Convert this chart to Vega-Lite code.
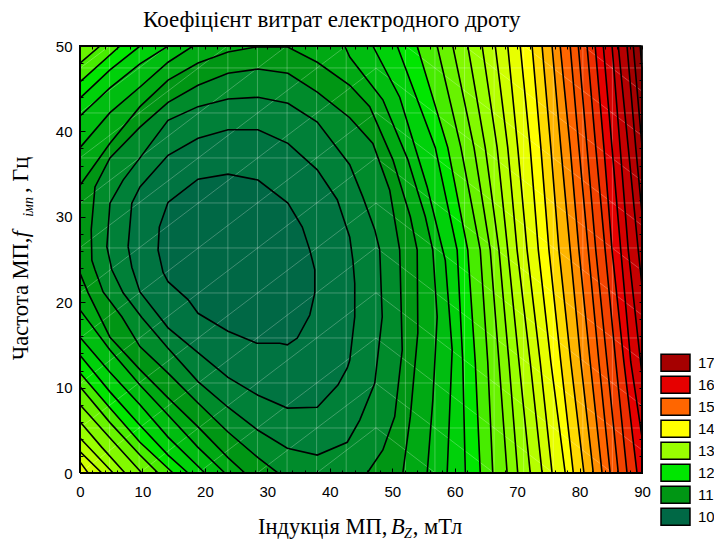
{"$schema":"https://vega.github.io/schema/vega-lite/v6.json","autosize":"none","width":562,"height":427,"padding":{"left":80,"top":46,"right":72,"bottom":67},"background":"white","config":{"view":{"stroke":null}},
"title":{"text":"Коефіцієнт витрат електродного дроту","font":"Liberation Serif","fontSize":23,"fontWeight":"normal","color":"black","anchor":"start","frame":"group","dx":63,"offset":7},
"datasets":{"contours":[
{"level":17.75,"i":1,"x":0,"y":0},{"level":17.75,"i":2,"x":0,"y":50},{"level":17.75,"i":3,"x":90,"y":50},{"level":17.75,"i":4,"x":90,"y":0},{"level":17.75,"i":5,"x":0,"y":0},
{"level":17.5,"i":1,"x":0,"y":0},{"level":17.5,"i":2,"x":0,"y":50},{"level":17.5,"i":3,"x":89.7,"y":50},{"level":17.5,"i":4,"x":90,"y":47.4},{"level":17.5,"i":5,"x":90,"y":0},{"level":17.5,"i":6,"x":0,"y":0},
{"level":17.25,"i":1,"x":0,"y":0},{"level":17.25,"i":2,"x":0,"y":50},{"level":17.25,"i":3,"x":88.6,"y":50},{"level":17.25,"i":4,"x":90,"y":38.3},{"level":17.25,"i":5,"x":90,"y":0},{"level":17.25,"i":6,"x":0,"y":0},
{"level":17,"i":1,"x":0,"y":0},{"level":17,"i":2,"x":0,"y":50},{"level":17,"i":3,"x":87.6,"y":50},{"level":17,"i":4,"x":89,"y":38.1},{"level":17,"i":5,"x":90,"y":30.4},{"level":17,"i":6,"x":90,"y":0},{"level":17,"i":7,"x":0,"y":0},
{"level":16.75,"i":1,"x":0,"y":0},{"level":16.75,"i":2,"x":0,"y":50},{"level":16.75,"i":3,"x":86.2,"y":50},{"level":16.75,"i":4,"x":87.8,"y":38.1},{"level":16.75,"i":5,"x":89.4,"y":26.1},{"level":16.75,"i":6,"x":90,"y":21.9},{"level":16.75,"i":7,"x":90,"y":0},{"level":16.75,"i":8,"x":0,"y":0},
{"level":16.5,"i":1,"x":0,"y":0},{"level":16.5,"i":2,"x":0,"y":50},{"level":16.5,"i":3,"x":85.2,"y":50},{"level":16.5,"i":4,"x":86.5,"y":38.1},{"level":16.5,"i":5,"x":87.8,"y":26.1},{"level":16.5,"i":6,"x":90,"y":11.5},{"level":16.5,"i":7,"x":90,"y":0},{"level":16.5,"i":8,"x":0,"y":0},
{"level":16.25,"i":1,"x":0,"y":0},{"level":16.25,"i":2,"x":0,"y":50},{"level":16.25,"i":3,"x":83.8,"y":50},{"level":16.25,"i":4,"x":85.2,"y":38.1},{"level":16.25,"i":5,"x":86.6,"y":26.1},{"level":16.25,"i":6,"x":88.2,"y":13},{"level":16.25,"i":7,"x":90,"y":4.2},{"level":16.25,"i":8,"x":90,"y":0},{"level":16.25,"i":9,"x":0,"y":0},
{"level":16,"i":1,"x":0,"y":0},{"level":16,"i":2,"x":0,"y":50},{"level":16,"i":3,"x":82.5,"y":50},{"level":16,"i":4,"x":83.9,"y":38.1},{"level":16,"i":5,"x":85.2,"y":26.1},{"level":16,"i":6,"x":87.1,"y":13},{"level":16,"i":7,"x":89.2,"y":0},{"level":16,"i":8,"x":0,"y":0},
{"level":15.75,"i":1,"x":0,"y":0},{"level":15.75,"i":2,"x":0,"y":50},{"level":15.75,"i":3,"x":81.2,"y":50},{"level":15.75,"i":4,"x":82.6,"y":38.1},{"level":15.75,"i":5,"x":84.1,"y":26.1},{"level":15.75,"i":6,"x":85.8,"y":13},{"level":15.75,"i":7,"x":87.6,"y":0},{"level":15.75,"i":8,"x":0,"y":0},
{"level":15.5,"i":1,"x":0,"y":0},{"level":15.5,"i":2,"x":0,"y":50},{"level":15.5,"i":3,"x":79.8,"y":50},{"level":15.5,"i":4,"x":81.2,"y":38.1},{"level":15.5,"i":5,"x":82.6,"y":26.1},{"level":15.5,"i":6,"x":84.4,"y":13},{"level":15.5,"i":7,"x":86.2,"y":0},{"level":15.5,"i":8,"x":0,"y":0},
{"level":15.25,"i":1,"x":0,"y":0},{"level":15.25,"i":2,"x":0,"y":50},{"level":15.25,"i":3,"x":78.5,"y":50},{"level":15.25,"i":4,"x":79.9,"y":38.1},{"level":15.25,"i":5,"x":81.4,"y":26.1},{"level":15.25,"i":6,"x":83.1,"y":13},{"level":15.25,"i":7,"x":84.9,"y":0},{"level":15.25,"i":8,"x":0,"y":0},
{"level":15,"i":1,"x":0,"y":0},{"level":15,"i":2,"x":0,"y":50},{"level":15,"i":3,"x":76.9,"y":50},{"level":15,"i":4,"x":78.5,"y":38.1},{"level":15,"i":5,"x":79.9,"y":26.1},{"level":15,"i":6,"x":81.7,"y":13},{"level":15,"i":7,"x":83.6,"y":0},{"level":15,"i":8,"x":0,"y":0},
{"level":14.75,"i":1,"x":0,"y":0},{"level":14.75,"i":2,"x":0,"y":50},{"level":14.75,"i":3,"x":75.6,"y":50},{"level":14.75,"i":4,"x":77,"y":38.1},{"level":14.75,"i":5,"x":78.5,"y":26.1},{"level":14.75,"i":6,"x":80.2,"y":13},{"level":14.75,"i":7,"x":82.2,"y":0},{"level":14.75,"i":8,"x":0,"y":0},
{"level":14.5,"i":1,"x":0,"y":0},{"level":14.5,"i":2,"x":0,"y":50},{"level":14.5,"i":3,"x":74,"y":50},{"level":14.5,"i":4,"x":75.4,"y":38.1},{"level":14.5,"i":5,"x":76.7,"y":26.1},{"level":14.5,"i":6,"x":78.6,"y":13},{"level":14.5,"i":7,"x":80.7,"y":0},{"level":14.5,"i":8,"x":0,"y":0},
{"level":14.25,"i":1,"x":0,"y":0},{"level":14.25,"i":2,"x":0,"y":50},{"level":14.25,"i":3,"x":72.4,"y":50},{"level":14.25,"i":4,"x":73.8,"y":38.1},{"level":14.25,"i":5,"x":75.1,"y":26.1},{"level":14.25,"i":6,"x":77,"y":13},{"level":14.25,"i":7,"x":79,"y":0},{"level":14.25,"i":8,"x":0,"y":0},
{"level":14,"i":1,"x":0,"y":0},{"level":14,"i":2,"x":0,"y":50},{"level":14,"i":3,"x":70.5,"y":50},{"level":14,"i":4,"x":72.1,"y":38.1},{"level":14,"i":5,"x":73.4,"y":26.1},{"level":14,"i":6,"x":75.4,"y":13},{"level":14,"i":7,"x":77.7,"y":0},{"level":14,"i":8,"x":0,"y":0},
{"level":13.75,"i":1,"x":0,"y":1.3},{"level":13.75,"i":2,"x":0,"y":50},{"level":13.75,"i":3,"x":68.5,"y":50},{"level":13.75,"i":4,"x":70.1,"y":38.1},{"level":13.75,"i":5,"x":71.6,"y":26.1},{"level":13.75,"i":6,"x":73.7,"y":13},{"level":13.75,"i":7,"x":75.6,"y":0},{"level":13.75,"i":8,"x":1.3,"y":0},{"level":13.75,"i":9,"x":0,"y":1.3},
{"level":13.5,"i":1,"x":0,"y":2.5},{"level":13.5,"i":2,"x":0,"y":50},{"level":13.5,"i":3,"x":66.5,"y":50},{"level":13.5,"i":4,"x":68.5,"y":38.1},{"level":13.5,"i":5,"x":70,"y":26.1},{"level":13.5,"i":6,"x":72.1,"y":13},{"level":13.5,"i":7,"x":74,"y":0},{"level":13.5,"i":8,"x":3.5,"y":0},{"level":13.5,"i":9,"x":0,"y":2.5},
{"level":13.25,"i":1,"x":0,"y":4.1},{"level":13.25,"i":2,"x":0,"y":50},{"level":13.25,"i":3,"x":64.4,"y":50},{"level":13.25,"i":4,"x":66.8,"y":38.1},{"level":13.25,"i":5,"x":68.5,"y":26.1},{"level":13.25,"i":6,"x":70.3,"y":13},{"level":13.25,"i":7,"x":72.1,"y":0},{"level":13.25,"i":8,"x":5.3,"y":0},{"level":13.25,"i":9,"x":0,"y":4.1},
{"level":13,"i":1,"x":0,"y":6},{"level":13,"i":2,"x":0,"y":50},{"level":13,"i":3,"x":62.1,"y":50},{"level":13,"i":4,"x":64.9,"y":38.1},{"level":13,"i":5,"x":67.1,"y":26.1},{"level":13,"i":6,"x":68.7,"y":13},{"level":13,"i":7,"x":70.1,"y":0},{"level":13,"i":8,"x":7.2,"y":0},{"level":13,"i":9,"x":3.5,"y":3},{"level":13,"i":10,"x":0,"y":6},
{"level":12.75,"i":1,"x":0,"y":8},{"level":12.75,"i":2,"x":0,"y":50},{"level":12.75,"i":3,"x":59.7,"y":50},{"level":12.75,"i":4,"x":63.1,"y":38.1},{"level":12.75,"i":5,"x":65.7,"y":26.1},{"level":12.75,"i":6,"x":67.1,"y":13},{"level":12.75,"i":7,"x":68.4,"y":0},{"level":12.75,"i":8,"x":9.9,"y":0},{"level":12.75,"i":9,"x":4.8,"y":4.1},{"level":12.75,"i":10,"x":0,"y":8},
{"level":12.5,"i":1,"x":0,"y":10.1},{"level":12.5,"i":2,"x":0,"y":48},{"level":12.5,"i":3,"x":3.2,"y":50},{"level":12.5,"i":4,"x":57.2,"y":50},{"level":12.5,"i":5,"x":61,"y":38.1},{"level":12.5,"i":6,"x":64.1,"y":26.1},{"level":12.5,"i":7,"x":65.3,"y":13},{"level":12.5,"i":8,"x":66.1,"y":0},{"level":12.5,"i":9,"x":12.5,"y":0},{"level":12.5,"i":10,"x":9.6,"y":2.1},{"level":12.5,"i":11,"x":4.8,"y":5.9},{"level":12.5,"i":12,"x":0,"y":10.1},
{"level":12.25,"i":1,"x":0,"y":11.7},{"level":12.25,"i":2,"x":0,"y":45.8},{"level":12.25,"i":3,"x":6.4,"y":50},{"level":12.25,"i":4,"x":54,"y":50},{"level":12.25,"i":5,"x":58.9,"y":38.1},{"level":12.25,"i":6,"x":62.1,"y":26.1},{"level":12.25,"i":7,"x":63.3,"y":13},{"level":12.25,"i":8,"x":64.1,"y":0},{"level":12.25,"i":9,"x":14.9,"y":0},{"level":12.25,"i":10,"x":9.6,"y":3.6},{"level":12.25,"i":11,"x":4.8,"y":7.6},{"level":12.25,"i":12,"x":0,"y":11.7},
{"level":12,"i":1,"x":0,"y":13.8},{"level":12,"i":2,"x":0,"y":43.9},{"level":12,"i":3,"x":4.8,"y":47.2},{"level":12,"i":4,"x":9.6,"y":50},{"level":12,"i":5,"x":50.8,"y":50},{"level":12,"i":6,"x":56.9,"y":38.1},{"level":12,"i":7,"x":60.4,"y":26.1},{"level":12,"i":8,"x":61.3,"y":13},{"level":12,"i":9,"x":61.7,"y":0},{"level":12,"i":10,"x":17.3,"y":0},{"level":12,"i":11,"x":14.1,"y":2.1},{"level":12,"i":12,"x":9.6,"y":5.6},{"level":12,"i":13,"x":4.8,"y":9.5},{"level":12,"i":14,"x":0,"y":13.8},
{"level":11.75,"i":1,"x":0,"y":15.9},{"level":11.75,"i":2,"x":0,"y":41.8},{"level":11.75,"i":3,"x":4.8,"y":45.1},{"level":11.75,"i":4,"x":9.6,"y":47.9},{"level":11.75,"i":5,"x":14.1,"y":50},{"level":11.75,"i":6,"x":46.9,"y":50},{"level":11.75,"i":7,"x":51.2,"y":44},{"level":11.75,"i":8,"x":55.6,"y":33.5},{"level":11.75,"i":9,"x":58.5,"y":24.9},{"level":11.75,"i":10,"x":59.6,"y":14.4},{"level":11.75,"i":11,"x":58.8,"y":0},{"level":11.75,"i":12,"x":20,"y":0},{"level":11.75,"i":13,"x":14.1,"y":4.2},{"level":11.75,"i":14,"x":9.6,"y":8},{"level":11.75,"i":15,"x":4.8,"y":11.8},{"level":11.75,"i":16,"x":0,"y":15.9},
{"level":11.5,"i":1,"x":0,"y":19.1},{"level":11.5,"i":2,"x":0,"y":38.1},{"level":11.5,"i":3,"x":4.8,"y":42.2},{"level":11.5,"i":4,"x":9.6,"y":45.2},{"level":11.5,"i":5,"x":14.1,"y":48.1},{"level":11.5,"i":6,"x":18.1,"y":50},{"level":11.5,"i":7,"x":42.4,"y":50},{"level":11.5,"i":8,"x":43.2,"y":48.7},{"level":11.5,"i":9,"x":48.5,"y":43.7},{"level":11.5,"i":10,"x":52.5,"y":36.7},{"level":11.5,"i":11,"x":55.3,"y":30},{"level":11.5,"i":12,"x":56.5,"y":26.1},{"level":11.5,"i":13,"x":57.2,"y":18.3},{"level":11.5,"i":14,"x":56.5,"y":8.5},{"level":11.5,"i":15,"x":55.6,"y":0},{"level":11.5,"i":16,"x":23.2,"y":0},{"level":11.5,"i":17,"x":18.9,"y":3},{"level":11.5,"i":18,"x":14.1,"y":6.8},{"level":11.5,"i":19,"x":9.6,"y":10.3},{"level":11.5,"i":20,"x":4.8,"y":14.4},{"level":11.5,"i":21,"x":0,"y":19.1},
{"level":11.25,"i":1,"x":0,"y":23.4},{"level":11.25,"i":2,"x":0,"y":33.7},{"level":11.25,"i":3,"x":4.8,"y":38.6},{"level":11.25,"i":4,"x":9.6,"y":42.9},{"level":11.25,"i":5,"x":14.1,"y":46},{"level":11.25,"i":6,"x":18.9,"y":48},{"level":11.25,"i":7,"x":23.7,"y":49.3},{"level":11.25,"i":8,"x":28.3,"y":49.9},{"level":11.25,"i":9,"x":33.2,"y":49.9},{"level":11.25,"i":10,"x":38,"y":48.1},{"level":11.25,"i":11,"x":43.2,"y":45.4},{"level":11.25,"i":12,"x":46.4,"y":42.9},{"level":11.25,"i":13,"x":50.1,"y":36.7},{"level":11.25,"i":14,"x":52.9,"y":30},{"level":11.25,"i":15,"x":54,"y":26.1},{"level":11.25,"i":16,"x":54.1,"y":16.4},{"level":11.25,"i":17,"x":52.9,"y":6.6},{"level":11.25,"i":18,"x":51.7,"y":0},{"level":11.25,"i":19,"x":26.4,"y":0},{"level":11.25,"i":20,"x":23.7,"y":1.8},{"level":11.25,"i":21,"x":18.9,"y":5.4},{"level":11.25,"i":22,"x":14.1,"y":8.8},{"level":11.25,"i":23,"x":9.6,"y":12.1},{"level":11.25,"i":24,"x":4.8,"y":15.9},{"level":11.25,"i":25,"x":1.3,"y":21.1},{"level":11.25,"i":26,"x":0,"y":23.4},
{"level":11,"i":1,"x":46,"y":0},{"level":11,"i":2,"x":48.5,"y":2.7},{"level":11,"i":3,"x":50.4,"y":6.6},{"level":11,"i":4,"x":51.6,"y":14.4},{"level":11,"i":5,"x":51.2,"y":26.1},{"level":11,"i":6,"x":49.6,"y":33.1},{"level":11,"i":7,"x":46.9,"y":38.6},{"level":11,"i":8,"x":43.2,"y":41.6},{"level":11,"i":9,"x":38,"y":44.6},{"level":11,"i":10,"x":33.3,"y":46.8},{"level":11,"i":11,"x":28.5,"y":47.3},{"level":11,"i":12,"x":23.7,"y":46.8},{"level":11,"i":13,"x":18.9,"y":45.4},{"level":11,"i":14,"x":14.1,"y":43.4},{"level":11,"i":15,"x":9.6,"y":40.5},{"level":11,"i":16,"x":4.8,"y":36.9},{"level":11,"i":17,"x":2.4,"y":33.5},{"level":11,"i":18,"x":1.8,"y":28.5},{"level":11,"i":19,"x":1.9,"y":24.9},{"level":11,"i":20,"x":2.4,"y":23.8},{"level":11,"i":21,"x":3.7,"y":21.2},{"level":11,"i":22,"x":6.7,"y":18.3},{"level":11,"i":23,"x":9.6,"y":14.8},{"level":11,"i":24,"x":14.1,"y":11.7},{"level":11,"i":25,"x":18.9,"y":8.2},{"level":11,"i":26,"x":23.7,"y":4.8},{"level":11,"i":27,"x":28.5,"y":1.8},{"level":11,"i":28,"x":31.7,"y":0},{"level":11,"i":29,"x":46,"y":0},
{"level":10.75,"i":1,"x":14.1,"y":14.6},{"level":10.75,"i":2,"x":18.9,"y":10.7},{"level":10.75,"i":3,"x":23.7,"y":7.7},{"level":10.75,"i":4,"x":28.5,"y":5},{"level":10.75,"i":5,"x":33.2,"y":2.9},{"level":10.75,"i":6,"x":38,"y":2.1},{"level":10.75,"i":7,"x":42.8,"y":3.6},{"level":10.75,"i":8,"x":44.8,"y":6.2},{"level":10.75,"i":9,"x":47.2,"y":10.5},{"level":10.75,"i":10,"x":48.4,"y":18.3},{"level":10.75,"i":11,"x":48,"y":26.1},{"level":10.75,"i":12,"x":47.2,"y":28.5},{"level":10.75,"i":13,"x":45.3,"y":32.3},{"level":10.75,"i":14,"x":43.2,"y":36.1},{"level":10.75,"i":15,"x":38,"y":41.1},{"level":10.75,"i":16,"x":33.3,"y":43.3},{"level":10.75,"i":17,"x":28.5,"y":44},{"level":10.75,"i":18,"x":23.7,"y":43.8},{"level":10.75,"i":19,"x":18.9,"y":42.9},{"level":10.75,"i":20,"x":14.1,"y":41.3},{"level":10.75,"i":21,"x":9.6,"y":36.9},{"level":10.75,"i":22,"x":6.9,"y":34.3},{"level":10.75,"i":23,"x":4.8,"y":31.6},{"level":10.75,"i":24,"x":4.3,"y":26.5},{"level":10.75,"i":25,"x":5.1,"y":23.8},{"level":10.75,"i":26,"x":6.9,"y":21.1},{"level":10.75,"i":27,"x":9.9,"y":18.2},{"level":10.75,"i":28,"x":14.1,"y":14.6},
{"level":10.5,"i":1,"x":7.7,"y":26.5},{"level":10.5,"i":2,"x":8.3,"y":31.6},{"level":10.5,"i":3,"x":9.6,"y":33.5},{"level":10.5,"i":4,"x":14.1,"y":37.2},{"level":10.5,"i":5,"x":18.9,"y":39.2},{"level":10.5,"i":6,"x":23.7,"y":40.2},{"level":10.5,"i":7,"x":28.5,"y":40.2},{"level":10.5,"i":8,"x":33.3,"y":38.6},{"level":10.5,"i":9,"x":38,"y":35.5},{"level":10.5,"i":10,"x":41.2,"y":32},{"level":10.5,"i":11,"x":43.2,"y":27.6},{"level":10.5,"i":12,"x":43.7,"y":24.9},{"level":10.5,"i":13,"x":44,"y":22.2},{"level":10.5,"i":14,"x":44,"y":18.3},{"level":10.5,"i":15,"x":43.2,"y":13.2},{"level":10.5,"i":16,"x":42.8,"y":12.3},{"level":10.5,"i":17,"x":41.3,"y":10.3},{"level":10.5,"i":18,"x":38,"y":7.7},{"level":10.5,"i":19,"x":33.2,"y":7.6},{"level":10.5,"i":20,"x":28.5,"y":9.1},{"level":10.5,"i":21,"x":23.7,"y":11.2},{"level":10.5,"i":22,"x":18.9,"y":14.1},{"level":10.5,"i":23,"x":14.1,"y":17},{"level":10.5,"i":24,"x":9.6,"y":21.2},{"level":10.5,"i":25,"x":8.3,"y":24.1},{"level":10.5,"i":26,"x":7.7,"y":26.5},
{"level":10.25,"i":1,"x":14.1,"y":31.7},{"level":10.25,"i":2,"x":18.9,"y":34.4},{"level":10.25,"i":3,"x":23.7,"y":35},{"level":10.25,"i":4,"x":28.5,"y":34.3},{"level":10.25,"i":5,"x":33.3,"y":31.6},{"level":10.25,"i":6,"x":35.6,"y":28.8},{"level":10.25,"i":7,"x":36.8,"y":26.1},{"level":10.25,"i":8,"x":37.6,"y":23.8},{"level":10.25,"i":9,"x":37.6,"y":21.1},{"level":10.25,"i":10,"x":36.8,"y":18.5},{"level":10.25,"i":11,"x":34.8,"y":15.8},{"level":10.25,"i":12,"x":33.2,"y":15},{"level":10.25,"i":13,"x":32,"y":15.2},{"level":10.25,"i":14,"x":28.3,"y":15.2},{"level":10.25,"i":15,"x":23.7,"y":16.6},{"level":10.25,"i":16,"x":18.9,"y":18.7},{"level":10.25,"i":17,"x":17.3,"y":20.3},{"level":10.25,"i":18,"x":14.1,"y":22.4},{"level":10.25,"i":19,"x":13.3,"y":23.5},{"level":10.25,"i":20,"x":12.5,"y":26.1},{"level":10.25,"i":21,"x":12.7,"y":28.8},{"level":10.25,"i":22,"x":14.1,"y":31.7}
],
"mesh":[
{"x":4.74,"y":0,"x2":4.74,"y2":50},{"x":9.47,"y":0,"x2":9.47,"y2":50},{"x":14.21,"y":0,"x2":14.21,"y2":50},{"x":18.95,"y":0,"x2":18.95,"y2":50},{"x":23.68,"y":0,"x2":23.68,"y2":50},{"x":28.42,"y":0,"x2":28.42,"y2":50},{"x":33.16,"y":0,"x2":33.16,"y2":50},{"x":37.89,"y":0,"x2":37.89,"y2":50},{"x":42.63,"y":0,"x2":42.63,"y2":50},{"x":47.37,"y":0,"x2":47.37,"y2":50},{"x":52.11,"y":0,"x2":52.11,"y2":50},{"x":56.84,"y":0,"x2":56.84,"y2":50},{"x":61.58,"y":0,"x2":61.58,"y2":50},{"x":66.32,"y":0,"x2":66.32,"y2":50},{"x":71.05,"y":0,"x2":71.05,"y2":50},{"x":75.79,"y":0,"x2":75.79,"y2":50},{"x":80.53,"y":0,"x2":80.53,"y2":50},{"x":85.26,"y":0,"x2":85.26,"y2":50},
{"x":0,"y":5.27,"x2":90,"y2":5.27},{"x":0,"y":10.54,"x2":90,"y2":10.54},{"x":0,"y":15.81,"x2":90,"y2":15.81},{"x":0,"y":21.08,"x2":90,"y2":21.08},{"x":0,"y":26.35,"x2":90,"y2":26.35},{"x":0,"y":31.62,"x2":90,"y2":31.62},{"x":0,"y":36.89,"x2":90,"y2":36.89},{"x":0,"y":42.16,"x2":90,"y2":42.16},{"x":0,"y":47.43,"x2":90,"y2":47.43},
{"x":0,"y":47.4,"x2":4.7,"y2":50},{"x":0,"y":42.2,"x2":14.1,"y2":50},{"x":0,"y":36.9,"x2":23.6,"y2":50},{"x":0,"y":31.6,"x2":33.1,"y2":50},{"x":0,"y":26.4,"x2":42.6,"y2":50},{"x":0,"y":21.1,"x2":47.4,"y2":47.4},{"x":0,"y":15.8,"x2":47.4,"y2":42.2},{"x":0,"y":10.5,"x2":47.4,"y2":36.9},{"x":0,"y":5.3,"x2":47.4,"y2":31.6},{"x":0,"y":0,"x2":47.4,"y2":26.4},{"x":9.5,"y":0,"x2":47.4,"y2":21.1},{"x":18.9,"y":0,"x2":47.4,"y2":15.8},{"x":28.4,"y":0,"x2":47.4,"y2":10.5},{"x":37.9,"y":0,"x2":47.4,"y2":5.3},
{"x":47.4,"y":47.4,"x2":90,"y2":23.7},{"x":47.4,"y":42.2,"x2":90,"y2":18.5},{"x":47.4,"y":36.9,"x2":90,"y2":13.2},{"x":47.4,"y":31.6,"x2":90,"y2":7.9},{"x":47.4,"y":26.4,"x2":90,"y2":2.7},{"x":47.4,"y":21.1,"x2":85.3,"y2":0},{"x":47.4,"y":15.8,"x2":75.8,"y2":0},{"x":47.4,"y":10.5,"x2":66.3,"y2":0},{"x":47.4,"y":5.3,"x2":56.9,"y2":0},{"x":52.2,"y":50,"x2":90,"y2":29},{"x":61.6,"y":50,"x2":90,"y2":34.2},{"x":71.1,"y":50,"x2":90,"y2":39.5},{"x":80.6,"y":50,"x2":90,"y2":44.7}
],
"classes":[{"class":"17"},{"class":"16"},{"class":"15"},{"class":"14"},{"class":"13"},{"class":"12"},{"class":"11"},{"class":"10"}],
"labels":[
{"x":28.5,"y":-7.1,"t":"Індукція МП,","k":"xn"},{"x":53.3,"y":-7.1,"t":", мТл","k":"xn"},{"x":49.8,"y":-7.1,"t":"B","k":"xi"},{"x":51.9,"y":-7.6,"t":"Z","k":"xs"},
{"x":-8.3,"y":13.2,"t":"Частота МП,","k":"yn"},{"x":-8.3,"y":32.8,"t":", Гц","k":"yn"},{"x":-8.3,"y":27.6,"t":"f","k":"yi"},{"x":-7.5,"y":30,"t":"імп","k":"ys"}
]},
"layer":[
{"data":{"name":"classes"},"mark":{"type":"point","filled":true,"opacity":0},
 "encoding":{"color":{"field":"class","type":"nominal","scale":{"domain":["17","16","15","14","13","12","11","10"],"range":["#A50000","#E60000","#FF6600","#FFFF00","#99FF00","#00E600","#009614","#006845"]},
 "legend":{"title":null,"orient":"none","legendX":580,"legendY":306,"padding":0,"symbolType":"M-1,-0.586H1V0.586H-1Z","symbolSize":841,"symbolOpacity":1,"symbolStrokeColor":"black","symbolStrokeWidth":1.5,"clipHeight":21.7,"rowPadding":0,"labelFont":"Liberation Sans","labelFontSize":15,"labelColor":"black","labelOffset":7}}}},
{"data":{"name":"contours"},"mark":{"type":"line","strokeWidth":0,"interpolate":"linear"},
 "encoding":{"x":{"field":"x","type":"quantitative","scale":{"domain":[0,90],"nice":false,"zero":false},"axis":{"orient":"bottom","title":null,"domain":false,"grid":false,"values":[0,10,20,30,40,50,60,70,80,90],"format":"d","tickSize":-5,"tickColor":"black","labelFont":"Liberation Sans","labelFontSize":15,"labelColor":"black","labelPadding":16,"labelFlush":false,"zindex":1}},
 "y":{"field":"y","type":"quantitative","scale":{"domain":[0,50],"nice":false,"zero":false},"axis":{"orient":"left","title":null,"domain":false,"grid":false,"values":[0,10,20,30,40,50],"format":"d","tickSize":-5,"tickColor":"black","labelFont":"Liberation Sans","labelFontSize":15,"labelColor":"black","labelPadding":13,"labelFlush":false,"zindex":1}},
 "detail":{"field":"level"},"order":{"field":"i","type":"quantitative"},
 "fill":{"field":"level","type":"quantitative","legend":null,"scale":{"domain":[10.25,11.25,12.25,13.25,14.25,15.25,16.25,17.25,18],"range":["#006845","#009614","#00E600","#99FF00","#FFFF00","#FF6600","#E60000","#A50000","#6E0000"]}}}},
{"data":{"name":"mesh"},"mark":{"type":"rule","color":"white","opacity":0.25,"strokeWidth":1},
 "encoding":{"x":{"field":"x","type":"quantitative","scale":{"domain":[0,90],"nice":false,"zero":false},"axis":{"orient":"bottom","title":null,"domain":false,"grid":false,"labels":false,"values":[2,4,6,8,12,14,16,18,22,24,26,28,32,34,36,38,42,44,46,48,52,54,56,58,62,64,66,68,72,74,76,78,82,84,86,88],"tickSize":-3,"tickColor":"black","zindex":1}},
 "y":{"field":"y","type":"quantitative","scale":{"domain":[0,50],"nice":false,"zero":false},"axis":{"orient":"left","title":null,"domain":false,"grid":false,"labels":false,"values":[2,4,6,8,12,14,16,18,22,24,26,28,32,34,36,38,42,44,46,48],"tickSize":-3,"tickColor":"black","zindex":1}},
 "x2":{"field":"x2"},"y2":{"field":"y2"}}},
{"data":{"name":"contours"},"mark":{"type":"line","stroke":"black","strokeWidth":1.6,"fill":null,"interpolate":"linear"},
 "encoding":{"x":{"field":"x","type":"quantitative","scale":{"domain":[0,90],"nice":false,"zero":false},"axis":{"orient":"top","title":null,"domain":false,"grid":false,"labels":false,"values":[0,2,4,6,8,10,12,14,16,18,20,22,24,26,28,30,32,34,36,38,40,42,44,46,48,50,52,54,56,58,60,62,64,66,68,70,72,74,76,78,80,82,84,86,88,90],"tickSize":-3,"tickColor":"black","zindex":1}},
 "y":{"field":"y","type":"quantitative","scale":{"domain":[0,50],"nice":false,"zero":false},"axis":{"orient":"right","title":null,"domain":false,"grid":false,"labels":false,"values":[0,2,4,6,8,10,12,14,16,18,20,22,24,26,28,30,32,34,36,38,40,42,44,46,48,50],"tickSize":-3,"tickColor":"black","zindex":1}},
 "detail":{"field":"level"},"order":{"field":"i","type":"quantitative"}}},
{"data":{"name":"labels"},"transform":[{"filter":"datum.k=='xn'"}],"mark":{"type":"text","font":"Liberation Serif","fontSize":22.5,"align":"left","baseline":"alphabetic","color":"black"},
 "encoding":{"x":{"field":"x","type":"quantitative","axis":null},"y":{"field":"y","type":"quantitative","axis":null},"text":{"field":"t"}}},
{"data":{"name":"labels"},"transform":[{"filter":"datum.k=='xi'"}],"mark":{"type":"text","font":"Liberation Serif","fontStyle":"italic","fontSize":22.5,"align":"left","baseline":"alphabetic","color":"black"},
 "encoding":{"x":{"field":"x","type":"quantitative","axis":null},"y":{"field":"y","type":"quantitative","axis":null},"text":{"field":"t"}}},
{"data":{"name":"labels"},"transform":[{"filter":"datum.k=='xs'"}],"mark":{"type":"text","font":"Liberation Serif","fontStyle":"italic","fontSize":14,"align":"left","baseline":"alphabetic","color":"black"},
 "encoding":{"x":{"field":"x","type":"quantitative","axis":null},"y":{"field":"y","type":"quantitative","axis":null},"text":{"field":"t"}}},
{"data":{"name":"labels"},"transform":[{"filter":"datum.k=='yn'"}],"mark":{"type":"text","font":"Liberation Serif","fontSize":22.5,"angle":270,"align":"left","baseline":"alphabetic","color":"black"},
 "encoding":{"x":{"field":"x","type":"quantitative","axis":null},"y":{"field":"y","type":"quantitative","axis":null},"text":{"field":"t"}}},
{"data":{"name":"labels"},"transform":[{"filter":"datum.k=='yi'"}],"mark":{"type":"text","font":"Liberation Serif","fontStyle":"italic","fontSize":22.5,"angle":270,"align":"left","baseline":"alphabetic","color":"black"},
 "encoding":{"x":{"field":"x","type":"quantitative","axis":null},"y":{"field":"y","type":"quantitative","axis":null},"text":{"field":"t"}}},
{"data":{"name":"labels"},"transform":[{"filter":"datum.k=='ys'"}],"mark":{"type":"text","font":"Liberation Serif","fontStyle":"italic","fontSize":14,"angle":270,"align":"left","baseline":"alphabetic","color":"black"},
 "encoding":{"x":{"field":"x","type":"quantitative","axis":null},"y":{"field":"y","type":"quantitative","axis":null},"text":{"field":"t"}}}
],
"resolve":{"axis":{"x":"independent","y":"independent"}}}
